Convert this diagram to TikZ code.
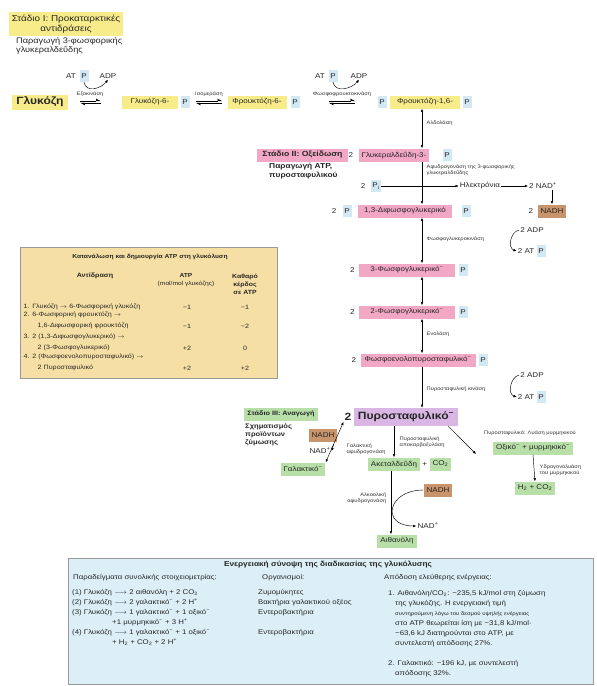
\documentclass[tikz,border=0pt]{standalone}
\usepackage{fontspec}
\setmainfont{Liberation Sans}[FakeStretch=1.15]
\usetikzlibrary{positioning}
\usetikzlibrary{arrows.meta}
\usetikzlibrary{calc}

\definecolor{stageyellow}{HTML}{F8EC8A}
\definecolor{stagepink}{HTML}{F2A8C4}
\definecolor{phosblue}{HTML}{D2E8F2}
\definecolor{nadbrown}{HTML}{C8946C}
\definecolor{prodgreen}{HTML}{B8DFA8}
\definecolor{pyrviolet}{HTML}{D9B6E3}
\definecolor{tabletan}{HTML}{F6DFA4}
\definecolor{summaryblue}{HTML}{DCEFF6}

\tikzset{
  lbl/.style={font=\fontsize{7}{8}\selectfont, inner sep=1pt, text=black!85},
  enz/.style={font=\fontsize{5}{5.8}\selectfont, inner sep=0.5pt, text=black!80},
  ybox/.style={lbl, fill=stageyellow, inner xsep=3pt, minimum height=13pt},
  pbox/.style={lbl, fill=stagepink, inner xsep=3pt, minimum height=13pt},
  gbox/.style={lbl, fill=prodgreen, inner xsep=3pt, minimum height=13pt},
  nadbox/.style={lbl, fill=nadbrown, inner xsep=3pt, minimum height=13pt},
  phos/.style={lbl, fill=phosblue, inner xsep=1.5pt, minimum height=12pt, minimum width=9pt},
  vbox/.style={fill=pyrviolet, inner xsep=4pt, minimum height=18pt, text=black!85,
    font=\bfseries\fontsize{10.5}{12}\selectfont},
  tab/.style={font=\fontsize{6.2}{7.5}\selectfont, inner sep=0.5pt, text=black!85},
  summ/.style={font=\fontsize{6.8}{10}\selectfont, inner sep=0pt, align=left, text=black!85},
  half/.style={-{Latex[harpoon,length=4pt,width=4.4pt]}},
}

% two half arrows for a reversible step
\newcommand{\revarrows}[4]{%
  \draw[half, shorten <=#3, shorten >=#4] ([yshift=1.2pt]#1.east) -- ([yshift=1.2pt]#2.west);
  \draw[half, shorten <=#4, shorten >=#3] ([yshift=-1.2pt]#2.west) -- ([yshift=-1.2pt]#1.east);}

\begin{document}
\begin{tikzpicture}[x=1pt,y=-1pt,>={Latex[length=3.2pt,width=2.6pt]},line width=0.45pt]

  \useasboundingbox (0,0) rectangle (597,686);
  \coordinate (axis)    at (422,0);
  \coordinate (adhaxis) at (391,0);

  % Stage I
  \node (stage1)    at (66,24) [ybox, align=center, minimum width=112pt, minimum height=24pt,
    font=\fontsize{8.6}{9.5}\selectfont] {Στάδιο I: Προκαταρκτικές\\ αντιδράσεις};
  \node (stage1txt) at (15,36) [lbl, anchor=north west, align=left,
    font=\fontsize{8}{9}\selectfont] {Παραγωγή 3-φωσφορικής\\ γλυκεραλδεΰδης};

  \node (glc)   at (40,102)  [ybox, minimum width=56pt, minimum height=15pt,
    font=\bfseries\fontsize{10.5}{12}\selectfont] {Γλυκόζη};
  \node (g6p)   at (150,102) [ybox, minimum width=56pt] {Γλυκόζη-6-};
  \node (g6pP)  at (185,102) [phos] {P};
  \node (f6p)   at (257,102) [ybox, minimum width=59pt] {Φρουκτόζη-6-};
  \node (f6pP)  at (295,102) [phos] {P};
  \node (f16pA) at (382,102) [phos] {P};
  \node (f16p)  at (425,102) [ybox, minimum width=70pt] {Φρουκτόζη-1,6-};
  \node (f16pB) at (467,102) [phos] {P};

  \revarrows{glc}{g6p}{12pt}{21pt}
  \revarrows{g6pP}{f6p}{6pt}{5pt}
  \revarrows{f6pP}{f16pA}{29pt}{22pt}

  \node (hex) at (90,94)  [enz] {Εξοκινάση};
  \node (iso) at (209,94) [enz] {Ισομεράση};
  \node (pfk) at (342,94) [enz] {Φωσφοφρουκτοκινάση};

  \node (atp1)  at (71,76)  [lbl] {AT};
  \node (atp1P) at (84,76)  [phos] {P};
  \node (adp1)  at (108,76) [lbl] {ADP};
  \draw[->] (atp1P.south) .. controls +(2,11) and +(-7,9) .. (adp1.south);
  \node (atp2)  at (320,76) [lbl] {AT};
  \node (atp2P) at (333,76) [phos] {P};
  \node (adp2)  at (359,76) [lbl] {ADP};
  \draw[->] (atp2P.south) .. controls +(2,11) and +(-7,9) .. (adp2.south);

  % Stage II
  \node (stage2)    at (302.5,155) [pbox, minimum width=91pt,
    font=\bfseries\fontsize{7.5}{8}\selectfont] {Στάδιο II: Οξείδωση};
  \node (stage2txt) at (268,162) [lbl, anchor=north west, align=left,
    font=\bfseries\fontsize{7.3}{8.5}\selectfont] {Παραγωγή ATP,\\ πυροσταφυλικού};

  \node (gap)   at (394,155) [pbox, minimum width=62pt] {Γλυκεραλδεΰδη-3-};
  \node (gapn)  [lbl, left=4pt of gap] {2};
  \node (gapP)  at (447,155) [phos] {P};
  \draw[<->] (f16p.south -| axis) -- (gap.north -| axis);
  \node (ald) at (426,123) [enz, anchor=west] {Αλδολάση};

  \node (pin)  at (363,186) [lbl] {2};
  \node (pi)   at (376,186) [phos] {P\textsubscript{i}};
  \node (elec) at (480,186) [lbl] {Ηλεκτρόνια};
  \node (nad1) at (543,186) [lbl] {2 NAD\textsuperscript{+}};
  \draw[->] (pi) -- (elec);
  \draw[->] (elec) -- (nad1);
  \node (gapdh) at (426,170) [enz, anchor=west, align=left]
    {Αφυδρογονάση της 3-φωσφορικής\\ γλυκεραλδεΰδης};

  \node (bpg)   at (405,211) [pbox, minimum width=94pt] {1,3-Διφωσφογλυκερικό};
  \node (bpgPa) at (347,211) [phos] {P};
  \node (bpgn)  at (334,211) [lbl] {2};
  \node (bpgPb) at (466,211) [phos] {P};
  \draw[->] (gap.south -| axis) -- (bpg.north -| axis);

  \node (nadh1)  at (552,211) [nadbox] {NADH};
  \node (nadh1n) [lbl, left=3pt of nadh1] {2};
  \draw[->] (nad1.south -| nadh1) -- (nadh1.north);

  \node (pg3)  at (407,270) [pbox, minimum width=96pt] {3-Φωσφογλυκερικό\textsuperscript{−}};
  \node (pg3n) [lbl, left=3pt of pg3] {2};
  \node (pg3P) at (463,270) [phos] {P};
  \draw[<->] (bpg.south -| axis) -- (pg3.north -| axis);
  \node (pgk) at (426,239) [enz, anchor=west] {Φωσφογλυκεροκινάση};

  \node (adp3)  at (532,230) [lbl] {2 ADP};
  \node (atp3)  at (526,251) [lbl] {2 AT};
  \node (atp3P) at (541,251) [phos] {P};
  \draw[->] (adp3.west) .. controls +(-9,2) and +(-9,-3) .. (atp3.west);

  \node (pg2)  at (407,312) [pbox, minimum width=96pt] {2-Φωσφογλυκερικό\textsuperscript{−}};
  \node (pg2n) [lbl, left=3pt of pg2] {2};
  \node (pg2P) at (463,312) [phos] {P};
  \draw[<->] (pg3.south -| axis) -- (pg2.north -| axis);

  \node (pep)  at (418,360) [pbox, minimum width=115pt] {Φωσφοενολοπυροσταφυλικό\textsuperscript{−}};
  \node (pepn) [lbl, left=3pt of pep] {2};
  \node (pepP) at (483,360) [phos] {P};
  \draw[<->] (pg2.south -| axis) -- (pep.north -| axis);
  \node (eno) at (426,334) [enz, anchor=west] {Ενολάση};

  \node (adp4)  at (532,375) [lbl] {2 ADP};
  \node (atp4)  at (526,397) [lbl] {2 AT};
  \node (atp4P) at (541,397) [phos] {P};
  \draw[->] (adp4.west) .. controls +(-9,2) and +(-9,-3) .. (atp4.west);

  % Stage III
  \node (pyr)  at (406,417) [vbox, minimum width=104pt] {Πυροσταφυλικό\textsuperscript{−}};
  \node (pyrn) [left=1pt of pyr, inner sep=1pt, text=black!85,
    font=\bfseries\fontsize{10.5}{12}\selectfont] {2};
  \draw[->] (pep.south -| axis) -- (pyr.north -| axis);
  \node (pk) at (426,389) [enz, anchor=west] {Πυροσταφυλική κινάση};

  \node (stage3)    at (281,414) [gbox, minimum width=74pt,
    font=\bfseries\fontsize{6.3}{8}\selectfont] {Στάδιο III: Αναγωγή};
  \node (stage3txt) at (244,422) [lbl, anchor=north west, align=left,
    font=\bfseries\fontsize{6.6}{8}\selectfont] {Σχηματισμός\\ προϊόντων\\ ζύμωσης};

  \node (nadh2) at (323,435) [nadbox] {NADH};
  \node (nad2)  at (320,451) [lbl] {NAD\textsuperscript{+}};
  \node (lac)   at (303,469) [gbox] {Γαλακτικό\textsuperscript{−}};
  \draw[<->] (lac.north east) -- (pyrn.south west);
  \coordinate (ldhmid) at ($(lac.north east)!0.45!(pyrn.south west)$);
  \draw[->] (ldhmid) -- (nad2.east);
  \node (ldh) at (346,449) [enz, anchor=west, align=left] {Γαλακτική\\ αφυδρογονάση};

  \node (acet)  at (394,464) [gbox] {Ακεταλδεΰδη};
  \node (plus1) [lbl, right=1pt of acet] {+};
  \node (co2)   [gbox, right=1pt of plus1] {CO\textsubscript{2}};
  \draw[->] (pyr.south -| acet.north) -- (acet.north);
  \node (pdc) at (399,442) [enz, anchor=west, align=left] {Πυροσταφυλική\\ αποκαρβοξυλάση};

  \node (oxf) at (533,448) [gbox] {Οξικό\textsuperscript{−} + μυρμηκικό\textsuperscript{−}};
  \node (pfl) at (530,433) [enz] {Πυροσταφυλικό: Λυάση μυρμηκικού};
  \coordinate (pflend) at (476,454);
  \draw[->] ([xshift=-10pt]pyr.south east) -- (pflend);
  \node (h2)  at (535,488) [gbox] {H\textsubscript{2} + CO\textsubscript{2}};
  \draw[->] (oxf.south) -- (h2.north);
  \node (fhl) at (539,470) [enz, anchor=west, align=left] {Υδρογονολυάση\\ του μυρμηκικού};

  \node (nadh3) at (438,490) [nadbox] {NADH};
  \node (nad3)  at (428,526) [lbl] {NAD\textsuperscript{+}};
  \node (etoh)  at (397,541) [gbox] {Αιθανόλη};
  \draw[->] (acet.south -| adhaxis) -- (etoh.north -| adhaxis);
  \draw[->] (nadh3.west) .. controls +(-36,0) and +(-36,0) .. (nad3.west);
  \node (adh) at (387,498) [enz, anchor=east, align=right] {Αλκοολική\\ αφυδρογονάση};

  % ATP table
  \node (atptable) at (148.5,312.5) [draw=black!40, fill=tabletan,
    minimum width=257pt, minimum height=131pt] {};
  \node (tabtitle) at (150,257) [tab, font=\bfseries\fontsize{5.8}{7}\selectfont]
    {Κατανάλωση και δημιουργία ATP στη γλυκόλυση};
  \node (tabreact) at (95,276) [tab, font=\bfseries\fontsize{6.2}{7}\selectfont] {Αντίδραση};
  \node (tabatp)   at (186,280) [tab, align=center, font=\fontsize{5.8}{8}\selectfont]
    {\textbf{ATP}\\ (mol/mol γλυκόζης)};
  \node (tabnet)   at (245,284) [tab, align=center, font=\bfseries\fontsize{6}{8}\selectfont]
    {Καθαρό\\ κέρδος\\ σε ATP};
  \node (row1)  at (23,307) [tab, anchor=west] {1. Γλυκόζη $\to$ 6-Φωσφορική γλυκόζη};
  \node (row2)  at (23,315) [tab, anchor=west] {2. 6-Φωσφορική φρουκτόζη $\to$};
  \node (row2b) at (37,326) [tab, anchor=west] {1,6-Διφωσφορική φρουκτόζη};
  \node (row3)  at (23,337) [tab, anchor=west] {3. 2 (1,3-Διφωσφογλυκερικό) $\to$};
  \node (row3b) at (37,348) [tab, anchor=west] {2 (3-Φωσφογλυκερικό)};
  \node (row4)  at (23,357) [tab, anchor=west] {4. 2 (Φωσφοενολοπυροσταφυλικό) $\to$};
  \node (row4b) at (37,368) [tab, anchor=west] {2 Πυροσταφυλικό};
  \foreach \y/\a/\b in {307/−1/−1, 326/−1/−2, 348/+2/0, 368/+2/+2} {
    \node (atpval\y) at (187,\y) [tab] {\a};
    \node (netval\y) at (245,\y) [tab] {\b};
  }

  % energy summary
  \node (summary) at (330.5,621) [draw=black!40, fill=summaryblue,
    minimum width=525pt, minimum height=126pt] {};
  \node (sumtitle) at (328,565) [summ, font=\bfseries\fontsize{7.2}{8}\selectfont]
    {Ενεργειακή σύνοψη της διαδικασίας της γλυκόλυσης};
  \node (sumhead1) at (73,578)  [summ, anchor=west] {Παραδείγματα συνολικής στοιχειομετρίας:};
  \node (sumhead2) at (262,578) [summ, anchor=west] {Οργανισμοί:};
  \node (sumhead3) at (384,578) [summ, anchor=west] {Απόδοση ελεύθερης ενέργειας:};
  \node (sumeq) at (72,589) [summ, anchor=north west]
    {(1) Γλυκόζη $\longrightarrow$ 2 αιθανόλη + 2 CO\textsubscript{2}\\
     (2) Γλυκόζη $\longrightarrow$ 2 γαλακτικό\textsuperscript{−} + 2 H\textsuperscript{+}\\
     (3) Γλυκόζη $\longrightarrow$ 1 γαλακτικό\textsuperscript{−} + 1 οξικό\textsuperscript{−}\\
     \hspace*{40pt}+1 μυρμηκικό\textsuperscript{−} + 3 H\textsuperscript{+}\\
     (4) Γλυκόζη $\longrightarrow$ 1 γαλακτικό\textsuperscript{−} + 1 οξικό\textsuperscript{−}\\
     \hspace*{40pt}+ H\textsubscript{2} + CO\textsubscript{2} + 2 H\textsuperscript{+}};
  \node (sumorg) at (258,589) [summ, anchor=north west]
    {Ζυμομύκητες\\ Βακτήρια γαλακτικού οξέος\\ Εντεροβακτήρια\\[10pt] Εντεροβακτήρια};
  \node (sumyield1) at (388,590) [summ, anchor=north west]
    {1. Αιθανόλη/CO\textsubscript{2}: −235,5 kJ/mol στη ζύμωση\\
     \hspace*{7pt}της γλυκόζης. Η ενεργειακή τιμή\\
     \hspace*{7pt}{\fontsize{5.2}{10}\selectfont συντηρούμενη λόγω του δεσμού υψηλής ενέργειας}\\
     \hspace*{7pt}στο ATP θεωρείται ίση με −31,8 kJ/mol·\\
     \hspace*{7pt}−63,6 kJ διατηρούνται στο ATP, με\\
     \hspace*{7pt}συντελεστή απόδοσης 27\%.};
  \node (sumyield2) at (388,660) [summ, anchor=north west]
    {2. Γαλακτικό: −196 kJ, με συντελεστή\\ \hspace*{7pt}απόδοσης 32\%.};

\end{tikzpicture}
\end{document}
